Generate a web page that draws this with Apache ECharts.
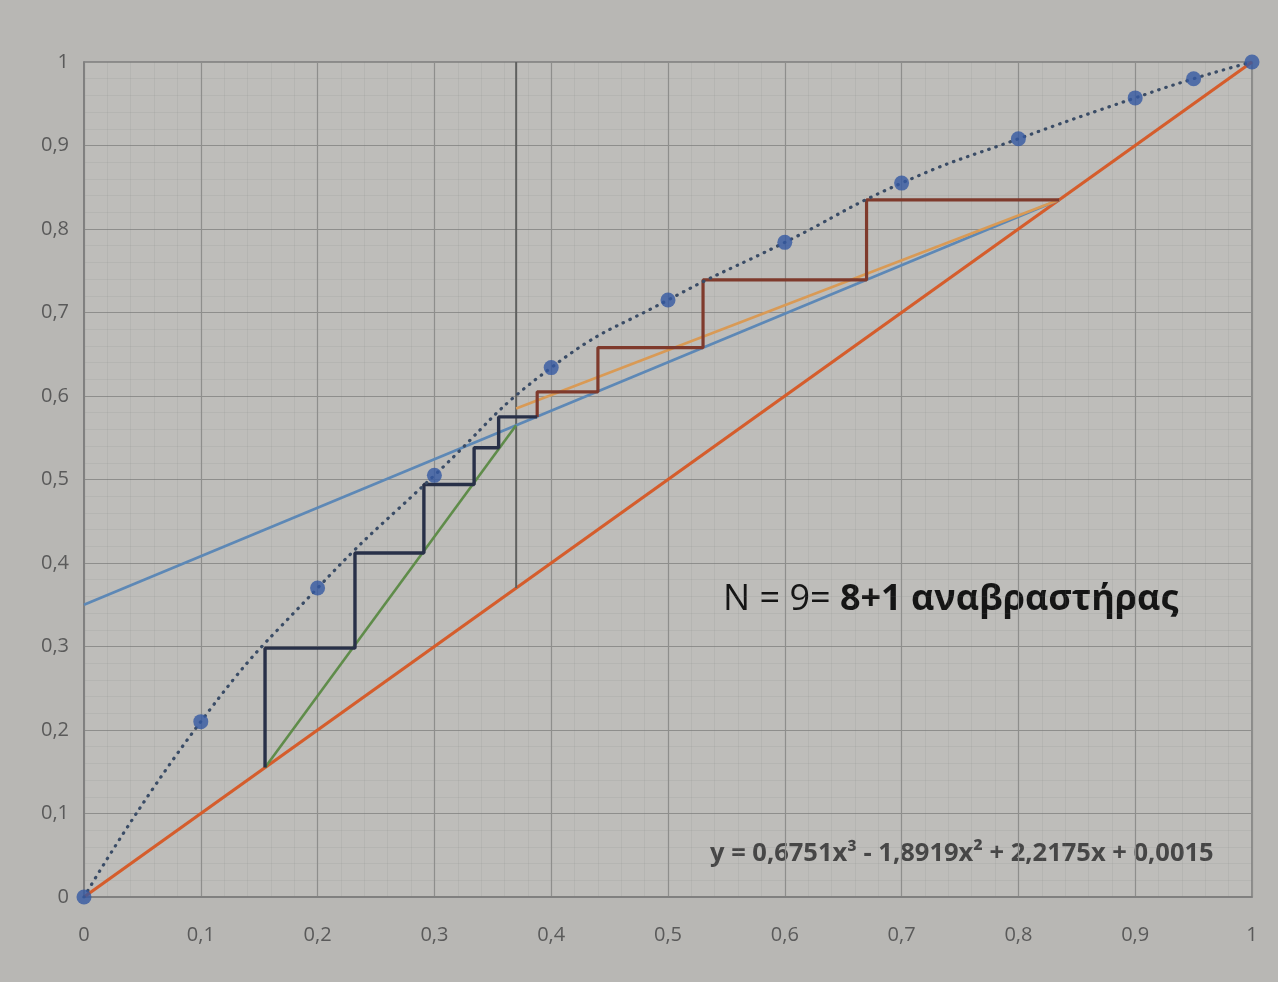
<!DOCTYPE html>
<html>
<head>
<meta charset="utf-8">
<script src="https://cdn.jsdelivr.net/npm/echarts@6/dist/echarts.min.js"></script>
<style>
  html, body { margin: 0; padding: 0; background: #b8b7b4; }
  #chart { width: 1278px; height: 982px; }
</style>
</head>
<body>
<div id="chart"></div>
<script>
// Equilibrium data points (x, y)
const eqX = [0, 0.1, 0.2, 0.3, 0.4, 0.5, 0.6, 0.7, 0.8, 0.9, 0.95, 1];
const eqY = [0, 0.21, 0.37, 0.505, 0.634, 0.715, 0.784, 0.855, 0.908, 0.957, 0.98, 1];

// Diagonal y = x
const diagX = [0, 1];
const diagY = [0, 1];

// Feed line (vertical, q = 1)
const feedX = [0.37, 0.37];
const feedY = [0.37, 1];

// Rectifying operating line (blue)
const blueX = [0, 0.835];
const blueY = [0.35, 0.835];

// Minimum-reflux line (orange)
const orangeX = [0.37, 0.835];
const orangeY = [0.585, 0.835];

// Stripping operating line (green)
const greenX = [0.155, 0.37];
const greenY = [0.155, 0.565];

// Upper stages (brown)
const upperX = [0.835, 0.67, 0.67, 0.53, 0.53, 0.44, 0.44, 0.388, 0.388];
const upperY = [0.835, 0.835, 0.739, 0.739, 0.658, 0.658, 0.605, 0.605, 0.575];

// Lower stages (navy)
const lowerX = [0.388, 0.355, 0.355, 0.334, 0.334, 0.291, 0.291, 0.232, 0.232, 0.155, 0.155];
const lowerY = [0.575, 0.575, 0.538, 0.538, 0.494, 0.494, 0.412, 0.412, 0.298, 0.298, 0.155];

// Axis ticks
const axisMin = 0, axisMax = 1, axisStep = 0.1;

const zip = (xs, ys) => xs.map((x, i) => [x, ys[i]]);
const fmt = v => (Math.round(v * 10) / 10).toString().replace('.', ',');

const chart = echarts.init(document.getElementById('chart'));
const labelFont = "'Open Sans', 'Liberation Sans', sans-serif";

const axisCommon = {
  type: 'value', min: axisMin, max: axisMax, interval: axisStep,
  axisLine: { show: true, lineStyle: { color: '#7c7c7c', width: 1.5 } },
  axisTick: { show: false },
  splitLine: { show: true, lineStyle: { color: '#8e8e8c', width: 1.2 } },
  minorTick: { show: false, splitNumber: 5 },
  minorSplitLine: { show: true, lineStyle: { color: 'rgba(120,120,120,0.12)', width: 1 } },
  axisLabel: { color: '#5a5a5a', fontSize: 20, fontFamily: labelFont, formatter: fmt }
};

const lineSeries = (name, data, color, width, extra) => Object.assign({
  name, type: 'line', data, symbol: 'none', silent: true,
  lineStyle: { color, width }, animation: false
}, extra || {});

chart.setOption({
  backgroundColor: '#b8b7b4',
  animation: false,
  grid: { left: 84, right: 26, top: 62, bottom: 85, show: true, backgroundColor: '#bebdba', borderColor: '#7c7c7c', borderWidth: 1.5 },
  xAxis: Object.assign({}, axisCommon, { axisLabel: Object.assign({}, axisCommon.axisLabel, { margin: 28 }) }),
  yAxis: Object.assign({}, axisCommon, { axisLabel: Object.assign({}, axisCommon.axisLabel, { margin: 15 }) }),
  series: [
    lineSeries('diag', zip(diagX, diagY), '#d55d2c', 3.2),
    lineSeries('feed', zip(feedX, feedY), '#5f605f', 2),
    lineSeries('blue', zip(blueX, blueY), '#5d88b6', 2.8),
    lineSeries('orange', zip(orangeX, orangeY), '#d99a55', 2.6),
    lineSeries('green', zip(greenX, greenY), '#5f8c4a', 2.6),
    lineSeries('upper', zip(upperX, upperY), '#7f3a2c', 3.2),
    lineSeries('lower', zip(lowerX, lowerY), '#283048', 3.4),
    lineSeries('trend', zip(eqX, eqY), '#3a4c66', 3.2, {
      smooth: 0.5,
      lineStyle: { color: '#3a4c66', width: 3.2, type: [0.5, 7], cap: 'round' }
    }),
    {
      name: 'eq', type: 'scatter', data: zip(eqX, eqY), symbol: 'circle', symbolSize: 15,
      itemStyle: { color: '#3559a3' }, silent: true, animation: false, z: 5
    }
  ],
  graphic: [
    {
      type: 'text', left: 723, top: 582,
      style: {
        text: '{a|N = 9= }{b|8+1 αναβραστήρας}',
        rich: {
          a: { fontSize: 36, fontFamily: labelFont, fill: '#151515' },
          b: { fontSize: 36, fontWeight: 'bold', fontFamily: labelFont, fill: '#151515' }
        }
      }
    },
    {
      type: 'text', left: 710, top: 841,
      style: {
        text: 'y = 0,6751x³ - 1,8919x² + 2,2175x + 0,0015',
        fontSize: 25.5, fontWeight: 'bold', fontFamily: labelFont, fill: '#464646'
      }
    }
  ]
});
</script>
</body>
</html>
